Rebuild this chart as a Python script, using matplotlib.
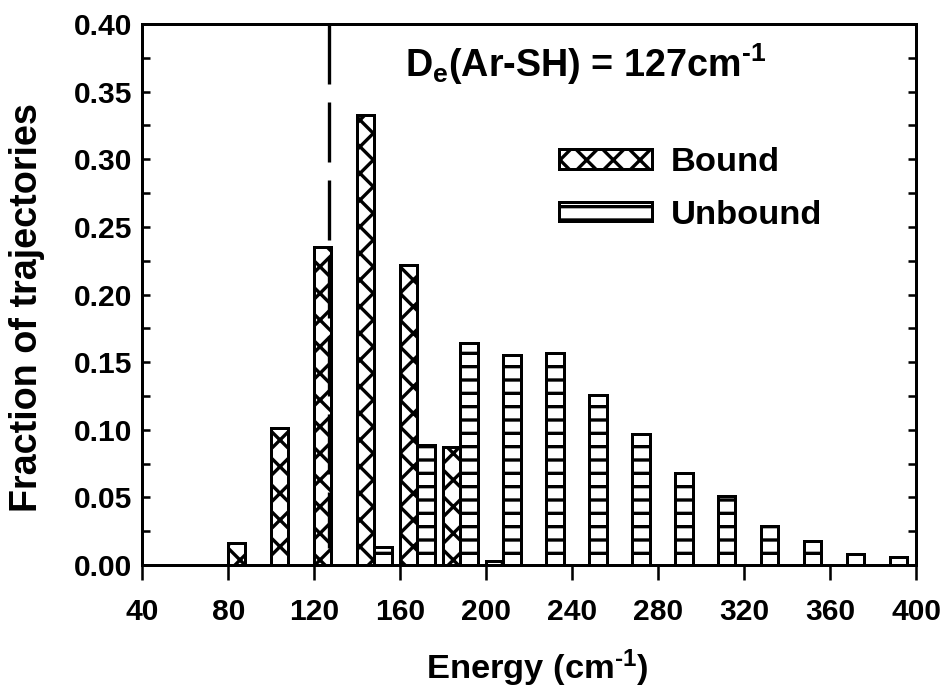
import matplotlib
matplotlib.use("Agg")
import matplotlib.pyplot as plt
from matplotlib.ticker import MultipleLocator, FormatStrFormatter

# energy bins (cm^-1) and fraction of trajectories in each
bound_energy = [84, 104, 124, 144, 164, 184, 204]
bound_frac = [0.0166, 0.101, 0.235, 0.333, 0.222, 0.087, 0.0033]

unbound_energy = [152, 172, 192, 212, 232, 252, 272, 292, 312, 332, 352, 372, 392]
unbound_frac = [0.013, 0.089, 0.164, 0.155, 0.157, 0.126, 0.097,
                0.068, 0.051, 0.029, 0.018, 0.008, 0.006]

de_value = 127  # dissociation energy of Ar-SH, cm^-1

# hatch tiles are one inch wide, so the dpi sets the hatch spacing
DPI = 80

plt.rcParams['font.family'] = ['Liberation Sans', 'DejaVu Sans']
plt.rcParams['font.weight'] = 'bold'
plt.rcParams['mathtext.fontset'] = 'custom'
plt.rcParams['mathtext.rm'] = 'Liberation Sans:bold'
plt.rcParams['mathtext.it'] = 'Liberation Sans:bold'
plt.rcParams['mathtext.bf'] = 'Liberation Sans:bold'
plt.rcParams['hatch.linewidth'] = 3.0


def draw_bars(ax):
    ax.bar(bound_energy, bound_frac, width=8, color='white', edgecolor='black',
           linewidth=2.7, hatch='x', label='Bound', zorder=2)
    ax.bar(unbound_energy, unbound_frac, width=8, color='white', edgecolor='black',
           linewidth=2.7, hatch='-', label='Unbound', zorder=2)


def style_axes(ax):
    ax.set_xlim(40, 400)
    ax.set_ylim(0, 0.40)
    ax.xaxis.set_major_locator(MultipleLocator(40))
    ax.yaxis.set_major_locator(MultipleLocator(0.05))
    ax.yaxis.set_minor_locator(MultipleLocator(0.025))
    ax.yaxis.set_major_formatter(FormatStrFormatter('%.2f'))
    ax.tick_params(axis='x', which='major', direction='out', length=13.5, width=2.3,
                   labelsize=27, pad=16, top=False)
    ax.tick_params(axis='y', which='both', direction='in', length=7.5, width=2.3,
                   labelsize=27, right=True, pad=9)
    for sp in ax.spines.values():
        sp.set_linewidth(2.7)
    for lab in ax.get_xticklabels() + ax.get_yticklabels():
        lab.set_fontweight('bold')
    ax.set_xlabel(r'Energy (cm$^{\text{-}1}$)', fontsize=31, fontweight='bold')
    ax.xaxis.set_label_coords(0.51, -0.152)
    ax.set_ylabel('Fraction of trajectories', fontsize=34, fontweight='bold')
    ax.yaxis.set_label_coords(-0.126, 0.475)


def main():
    fig = plt.figure(figsize=(943 / DPI, 698 / DPI), dpi=DPI)
    ax = fig.add_axes([0.1509, 0.1905, 0.8205, 0.7751])

    draw_bars(ax)
    # dashed marker at the dissociation energy, dashes starting from the top
    ax.plot([de_value, de_value], [0.40, 0.0125], color='black', linewidth=3,
            dashes=(18, 5.4), zorder=3)

    ax.text(162, 0.361, r'D$_e$(Ar-SH) = %dcm$^{\text{-}1}$' % de_value,
            fontsize=34, fontweight='bold', ha='left', va='baseline')

    ax.legend(loc='upper left', bbox_to_anchor=(0.538, 0.772), frameon=False,
              handlelength=2.7, handleheight=0.5, handletextpad=0.55,
              labelspacing=0.62, borderpad=0, borderaxespad=0,
              prop={'weight': 'bold', 'size': 31})

    style_axes(ax)
    fig.savefig('out.png', dpi=DPI)


if __name__ == "__main__":
    main()
